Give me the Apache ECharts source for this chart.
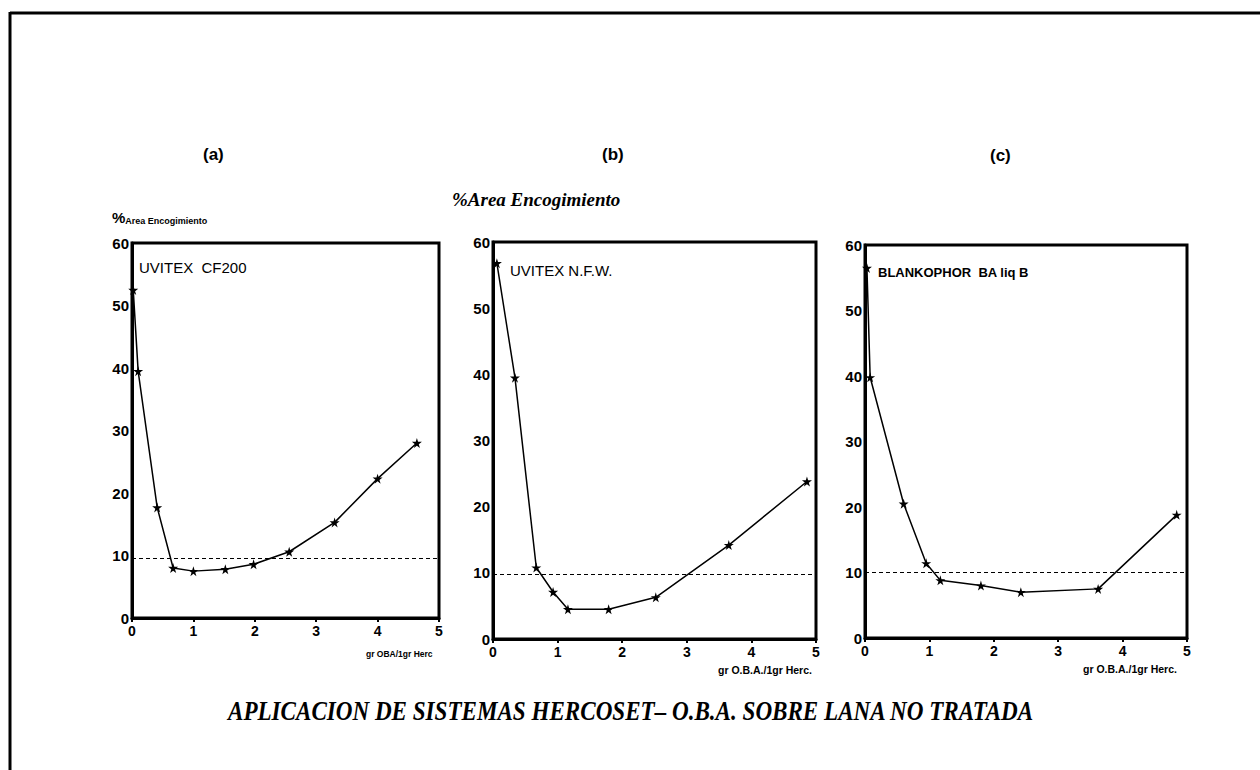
<!DOCTYPE html>
<html>
<head>
<meta charset="utf-8">
<script src="https://cdn.jsdelivr.net/npm/echarts@6/dist/echarts.min.js"></script>
<style>
html,body{margin:0;padding:0;background:#fff;}
#chart{width:1260px;height:770px;}
</style>
</head>
<body>
<div id="chart"></div>
<script>
// ---- data ----
const panelTitles = ['(a)', '(b)', '(c)'];
const panelNames = ['UVITEX  CF200', 'UVITEX N.F.W.', 'BLANKOPHOR  BA liq B'];
const xTickLabels = ['0', '1', '2', '3', '4', '5'];
const yTickLabels = ['0', '10', '20', '30', '40', '50', '60'];

const xA = [0.02, 0.10, 0.41, 0.67, 1.00, 1.52, 1.98, 2.56, 3.30, 4.00, 4.64];
const yA = [52.5, 39.5, 17.7, 8.0, 7.5, 7.8, 8.6, 10.6, 15.3, 22.3, 28.0];

const xB = [0.06, 0.34, 0.67, 0.93, 1.16, 1.79, 2.52, 3.65, 4.86];
const yB = [56.8, 39.5, 10.8, 7.1, 4.5, 4.5, 6.3, 14.2, 23.8];

const xC = [0.03, 0.08, 0.60, 0.95, 1.17, 1.80, 2.42, 3.62, 4.84];
const yC = [56.5, 39.8, 20.5, 11.4, 8.8, 8.0, 7.0, 7.5, 18.8];

const refLine = [9.5, 9.8, 10.0];

const caption = 'APLICACION DE SISTEMAS HERCOSET– O.B.A. SOBRE LANA NO TRATADA';
const yNameA = ['%', 'Area Encogimiento'];
const yNameB = '%Area Encogimiento';
const xNames = ['gr OBA/1gr Herc', 'gr O.B.A./1gr Herc.', 'gr O.B.A./1gr Herc.'];

// ---- layout ----
const grids = [
  {left: 132, top: 243, width: 307, height: 375},
  {left: 493, top: 242, width: 323, height: 397},
  {left: 865, top: 245, width: 322, height: 393}
];
const starPath = 'path://M50,0 L61,35 L98,35 L68,57 L79,91 L50,70 L21,91 L32,57 L2,35 L39,35 Z';
const sans = 'Liberation Sans, Arial, sans-serif';
const serif = 'Liberation Serif, Times New Roman, serif';

const xs = [xA, xB, xC];
const ys = [yA, yB, yC];

// fit caption to the reference width
const captionFont = 'italic bold 28px ' + serif;
const mctx = document.createElement('canvas').getContext('2d');
mctx.font = captionFont;
const captionScale = 807 / mctx.measureText(caption).width;

const option = {
  animation: false,
  backgroundColor: '#fff',
  grid: grids.map(g => Object.assign({show: true, borderColor: '#000', borderWidth: 3, backgroundColor: 'transparent'}, g)),
  xAxis: grids.map((g, i) => ({
    type: 'value', gridIndex: i, min: 0, max: 5, interval: 1,
    axisLine: {show: true, onZero: false, lineStyle: {color: '#000', width: 3}},
    axisTick: {show: true, length: 4, inside: false, lineStyle: {color: '#000', width: 2}},
    axisLabel: {color: '#000', fontFamily: sans, fontWeight: 'bold', fontSize: 14, margin: 6,
      formatter: v => xTickLabels[Math.round(v)]},
    splitLine: {show: false}
  })),
  yAxis: grids.map((g, i) => ({
    type: 'value', gridIndex: i, min: 0, max: 60, interval: 10,
    axisLine: {show: true, onZero: false, lineStyle: {color: '#000', width: 3}},
    axisTick: {show: false},
    axisLabel: {color: '#000', fontFamily: sans, fontWeight: 'bold', fontSize: 15, margin: 3,
      formatter: v => yTickLabels[Math.round(v / 10)]},
    splitLine: {show: false}
  })),
  series: grids.map((g, i) => ({
    type: 'line', xAxisIndex: i, yAxisIndex: i,
    data: xs[i].map((x, k) => [x, ys[i][k]]),
    symbol: starPath, symbolSize: 10,
    itemStyle: {color: '#000'},
    lineStyle: {color: '#000', width: 1.5},
    markLine: {
      silent: true, symbol: ['none', 'none'], label: {show: false},
      lineStyle: {color: '#000', type: [4, 3], width: 1.2},
      data: [{yAxis: refLine[i]}]
    }
  })),
  graphic: [
    // frame
    {type: 'line', shape: {x1: 10, y1: 13, x2: 1260, y2: 13}, style: {stroke: '#000', lineWidth: 3}},
    {type: 'line', shape: {x1: 10, y1: 12, x2: 10, y2: 770}, style: {stroke: '#000', lineWidth: 3}},
    // panel titles
    {type: 'text', left: 203, top: 146, style: {text: panelTitles[0], font: 'bold 17px ' + sans, fill: '#000'}},
    {type: 'text', left: 602, top: 146, style: {text: panelTitles[1], font: 'bold 17px ' + sans, fill: '#000'}},
    {type: 'text', left: 990, top: 147, style: {text: panelTitles[2], font: 'bold 17px ' + sans, fill: '#000'}},
    // y axis names
    {type: 'text', left: 112, top: 210, style: {
      text: '{p|' + yNameA[0] + '}{t|' + yNameA[1] + '}',
      rich: {p: {font: 'bold 15px ' + sans, fill: '#000'}, t: {font: 'bold 9px ' + sans, fill: '#000', verticalAlign: 'bottom', padding: [4, 0, 0, 0]}}
    }},
    {type: 'text', left: 452, top: 190, style: {text: yNameB, font: 'italic bold 19px ' + serif, fill: '#000'}},
    // series names inside panels
    {type: 'text', left: 139, top: 260, style: {text: panelNames[0], font: '15px ' + sans, fill: '#000'}},
    {type: 'text', left: 510, top: 263, style: {text: panelNames[1], font: '15px ' + sans, fill: '#000'}},
    {type: 'text', left: 878, top: 266, style: {text: panelNames[2], font: 'bold 13px ' + sans, fill: '#000'}},
    // x axis names
    {type: 'text', left: 366, top: 649, style: {text: xNames[0], font: 'bold 8.5px ' + sans, fill: '#000'}},
    {type: 'text', left: 718, top: 664, style: {text: xNames[1], font: 'bold 10.5px ' + sans, fill: '#000'}},
    {type: 'text', left: 1083, top: 663, style: {text: xNames[2], font: 'bold 10.5px ' + sans, fill: '#000'}},
    // caption
    {type: 'text', x: 228, y: 697, scaleX: captionScale, style: {text: caption, font: captionFont, fill: '#000'}}
  ]
};

const chart = echarts.init(document.getElementById('chart'), null, {renderer: 'svg'});
chart.setOption(option);
</script>
</body>
</html>
